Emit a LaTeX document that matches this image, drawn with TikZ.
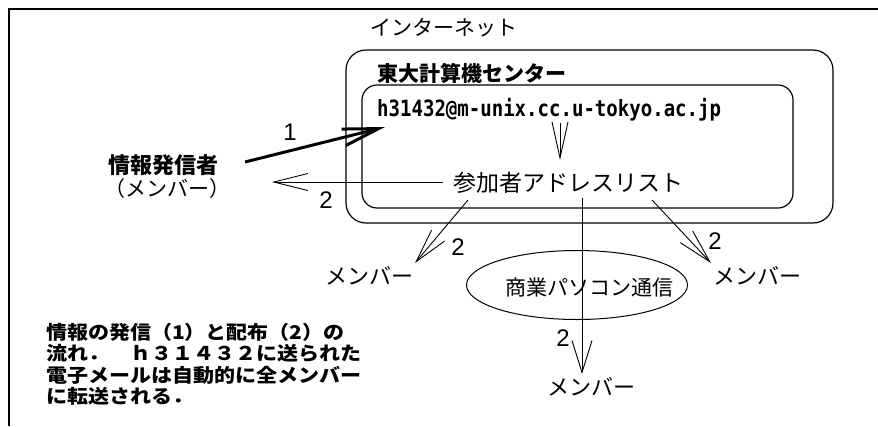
\documentclass[tikz,border=0pt]{standalone}
\usepackage{fontspec}
\usepackage{graphicx}
\setmainfont{Noto Sans CJK JP}
\newfontfamily\numfont{Liberation Sans}
\newfontfamily\addrfont{DejaVu Sans Mono}
\usetikzlibrary{arrows.meta,shapes.geometric}
\begin{document}
\begin{tikzpicture}[x=1pt,y=-1pt,
  lbl/.style={inner sep=0pt, anchor=west, font=\fontsize{22}{22}\selectfont},
  num/.style={inner sep=0pt, font=\numfont\fontsize{24}{24}\selectfont},
  roundbox/.style={draw, line width=1.2pt, inner sep=0pt},
  arr/.style={line width=0.9pt, -{Straight Barb[length=34pt,width=17pt]}},
  thickarr/.style={line width=3pt, -{Straight Barb[length=36pt,width=17pt]}},
]
\useasboundingbox (0,0) rectangle (878,426);
\fill[white] (0,0) rectangle (878,426);
\draw[line width=2.8pt] (9,426) -- (9,9) -- (878,9);

% containers
\node[roundbox, rounded corners=20pt, minimum width=487pt, minimum height=173pt] (net) at (589.5,136.5) {};
\node[roundbox, rounded corners=15pt, minimum width=431pt, minimum height=123pt] (ut) at (577.5,146.5) {};

% titles
\node[lbl, font=\fontsize{21}{21}\selectfont] (nettitle) at (370,28) {インターネット};
\node[lbl, font=\bfseries\fontsize{21}{21}\selectfont] (uttitle) at (377,73) {東大計算機センター};
\node[inner sep=0pt, anchor=west] (addr) at (377,110) {\addrfont\bfseries\fontsize{22.4}{22}\selectfont\scalebox{0.85}[1]{h31432@m-unix.cc.u-tokyo.ac.jp}};
\node[lbl, font=\fontsize{23}{23}\selectfont] (list) at (453,183) {参加者アドレスリスト};

% sender
\node[lbl, font=\bfseries\fontsize{22}{22}\selectfont] (sender) at (108,165) {情報発信者};
\node[lbl, font=\fontsize{21}{21}\selectfont] (sendermem) at (104,189) {（メンバー）};

% members
\node[lbl] (m1) at (325,276) {メンバー};
\node[lbl] (m2) at (713,276) {メンバー};
\node[lbl] (m3) at (547,387) {メンバー};

% commercial network
\node[draw, ellipse, line width=1pt, inner sep=0pt, minimum width=221pt, minimum height=69pt] (pc) at (577,285) {};
\node[lbl, font=\fontsize{21}{21}\selectfont] (pclabel) at (505,288) {商業パソコン通信};

% caption
\node[anchor=north west, inner sep=0pt] (cap) at (46,323) {\scalebox{1}[0.9]{\bfseries\fontsize{21}{19.5}\selectfont\begin{tabular}{@{}l@{}}
情報の発信（1）と配布（2）の\\
流れ．　ｈ３１４３２に送られた\\
電子メールは自動的に全メンバー\\
に転送される．
\end{tabular}}};

% arrow endpoints
\coordinate (a1s) at (245,162);
\coordinate (a1e) at (385,127);
\coordinate (a2s) at (443,182);
\coordinate (a2e) at (272,182);
\coordinate (ds) at (560,123);
\coordinate (de) at (560,160);
\coordinate (ls) at (468,200);
\coordinate (le) at (415,263);
\coordinate (ms) at (582,198);
\coordinate (me) at (582,374);
\coordinate (rs) at (652,200);
\coordinate (re) at (711,263);

\draw[thickarr] (a1s) -- (a1e);
\draw[arr] (a2s) -- (a2e);
\draw[arr, -{Straight Barb[length=36pt,width=16pt]}] (ds) -- (de);
\draw[arr] (ls) -- (le);
\draw[arr, -{Straight Barb[length=32pt,width=20pt]}] (ms) -- (me);
\draw[arr] (rs) -- (re);

% numbers
\node[num] (n1) at (290,132) {1};
\node[num] (n2a) at (326,200) {2};
\node[num] (n2b) at (458,247) {2};
\node[num] (n2c) at (715,241) {2};
\node[num] (n2d) at (563,338) {2};
\end{tikzpicture}
\end{document}
